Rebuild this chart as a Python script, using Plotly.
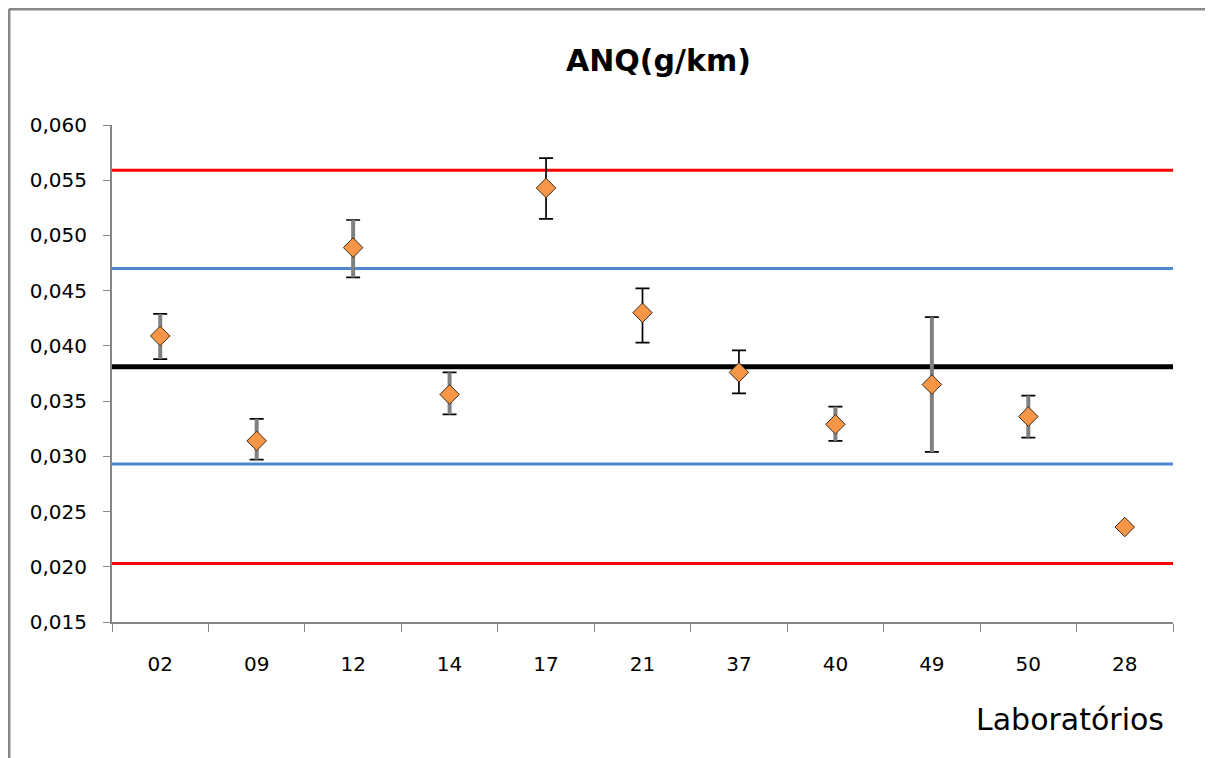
import plotly.graph_objects as go

labs = ["02", "09", "12", "14", "17", "21", "37", "40", "49", "50", "28"]
values = [0.0409, 0.0314, 0.0489, 0.0356, 0.0543, 0.0430, 0.0376, 0.0329, 0.0365, 0.0336, 0.0236]
err_hi = [0.0429, 0.0334, 0.0514, 0.0376, 0.0570, 0.0452, 0.0396, 0.0345, 0.0426, 0.0355, None]
err_lo = [0.0388, 0.0297, 0.0462, 0.0338, 0.0515, 0.0403, 0.0357, 0.0314, 0.0304, 0.0317, None]
gray_stem = [True, True, True, True, False, False, False, True, True, True, False]

ref_mean = 0.0381
warn_hi, warn_lo = 0.0470, 0.0293
act_hi, act_lo = 0.0559, 0.0203

plus = [(h - v) if h is not None else 0 for h, v in zip(err_hi, values)]
minus = [(v - l) if l is not None else 0 for l, v in zip(err_lo, values)]

fig = go.Figure()

# black thin error bars with caps
fig.add_trace(go.Scatter(
    x=labs, y=values, mode="markers", marker=dict(size=1, opacity=0),
    error_y=dict(type="data", symmetric=False, array=plus, arrayminus=minus,
                 color="black", thickness=1.7, width=7),
    showlegend=False, hoverinfo="skip"))

# gray thicker stems for some labs
gx = [l for l, g in zip(labs, gray_stem) if g]
gy = [v for v, g in zip(values, gray_stem) if g]
gp = [p for p, g in zip(plus, gray_stem) if g]
gm = [m for m, g in zip(minus, gray_stem) if g]
fig.add_trace(go.Scatter(
    x=gx, y=gy, mode="markers", marker=dict(size=1, opacity=0),
    error_y=dict(type="data", symmetric=False, array=gp, arrayminus=gm,
                 color="#808080", thickness=4, width=0),
    showlegend=False, hoverinfo="skip"))

fig.add_trace(go.Scatter(
    x=labs, y=values, mode="markers",
    marker=dict(symbol="diamond", size=15, color="#F79646",
                line=dict(color="#3a2a1a", width=1)),
    showlegend=False))

for yv, col, w in [(act_hi, "#FF0000", 3), (act_lo, "#FF0000", 3),
                   (warn_hi, "#4F86CD", 3), (warn_lo, "#4F86CD", 3),
                   (ref_mean, "#000000", 5)]:
    fig.add_shape(type="line", xref="paper", yref="y", x0=0, x1=1, y0=yv, y1=yv,
                  line=dict(color=col, width=w), layer="below")

# outer frame
fc = "#888888"
fig.add_shape(type="line", xref="paper", yref="paper", x0=-0.0971, x1=-0.0971, y0=-0.35, y1=1.2334,
              line=dict(color=fc, width=3))
fig.add_shape(type="line", xref="paper", yref="paper", x0=-0.0971, x1=1.033, y0=1.2334, y1=1.2334,
              line=dict(color=fc, width=3))
fig.add_shape(type="line", xref="paper", yref="paper", x0=1.033, x1=1.033, y0=-0.35, y1=1.2334,
              line=dict(color=fc, width=2))

fig.add_annotation(text="<b>ANQ(g/km)</b>", xref="paper", yref="paper", x=0.5155, y=1.1298,
                   xanchor="center", yanchor="middle",
                   showarrow=False, font=dict(family="DejaVu Sans", size=30, color="black"))
fig.add_annotation(text="Laboratórios", xref="paper", yref="paper", x=0.903, y=-0.1952,
                   xanchor="center", yanchor="middle",
                   showarrow=False, font=dict(family="DejaVu Sans", size=30, color="black"))

fig.update_layout(
    width=1213, height=758,
    margin=dict(l=104, r=48, t=117, b=144),
    paper_bgcolor="white", plot_bgcolor="white",
    separators=",.",
    font=dict(family="DejaVu Sans", size=20, color="black"),
    xaxis=dict(type="category", range=[-0.5, 10.5], tickson="boundaries", ticks="outside",
               ticklen=8, tickcolor="#868686", showline=True, linecolor="#868686", linewidth=2,
               showgrid=False, zeroline=False, tickfont=dict(size=20), ticklabelstandoff=23),
    yaxis=dict(range=[0.015, 0.060], dtick=0.005, tick0=0.015, tickformat=".3f", ticks="outside",
               ticklen=7, tickcolor="#868686", showline=True, linecolor="#868686", linewidth=2,
               showgrid=False, zeroline=False, tickfont=dict(size=20), ticklabelstandoff=12),
)

fig.write_html("out.html")
